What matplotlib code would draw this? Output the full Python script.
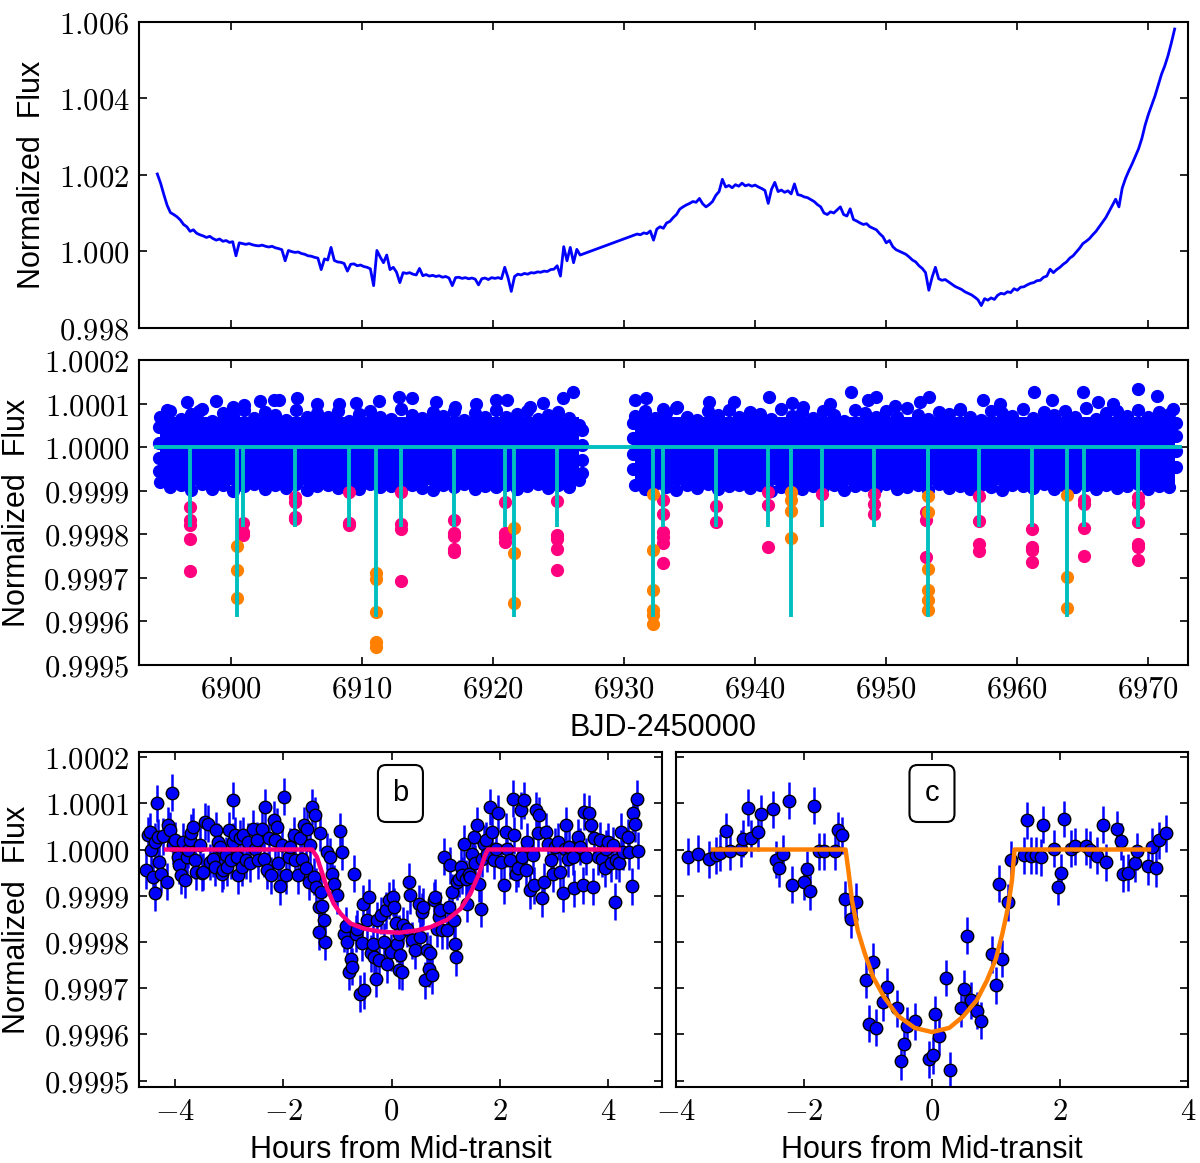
import numpy as np
import matplotlib
matplotlib.use('Agg')
import matplotlib.pyplot as plt
from matplotlib.ticker import FuncFormatter
from matplotlib.patches import FancyBboxPatch

plt.rcParams['mathtext.fontset'] = 'cm'
plt.rcParams['font.family'] = ['Liberation Sans', 'DejaVu Sans']

# ---------------- raw light curve (top panel), ppm from 1 ----------------
raw1_t0 = 6894.40
raw2_t0 = 6930.75
raw_step = 0.25
raw1_ppm = [2020, 1780, 1480, 1200, 1010, 960, 900, 820, 700, 640,
            520, 560, 470, 430, 400, 360, 390, 330, 290, 320,
            260, 280, 230, 250, -120, 220, 200, 180, 200, 170,
            150, 140, 160, 130, 110, 130, 90, 70, 40, -250,
            20, -10, -30, -20, -60, -80, -120, -130, -160, -180,
            -480, -200, -230, 100, -240, -280, -290, -320, -520, -340,
            -330, -380, -360, -400, -420, -460, -900, 20, -150, -300,
            -100, -480, -420, -550, -820, -560, -580, -560, -600, -620,
            -450, -640, -610, -650, -630, -660, -640, -680, -660, -700,
            -900, -690, -680, -710, -690, -720, -700, -730, -880, -720,
            -700, -740, -690, -710, -690, -720, -420, -690, -1050, -660,
            -600, -620, -580, -600, -560, -570, -540, -550, -520, -530,
            -480, -470, -380, -650, 120, -250, 100, -300, 50, -100]
raw2_ppm = [420, 450, 430, 480, 460, 530, 290, 580, 640, 600,
            740, 780, 880, 960, 1100, 1160, 1210, 1250, 1300, 1280,
            1380, 1240, 1160, 1220, 1300, 1460, 1560, 1880, 1680, 1720,
            1660, 1740, 1700, 1780, 1710, 1740, 1700, 1730, 1680, 1640,
            1590, 1250, 1620, 1800, 1560, 1600, 1540, 1580, 1500, 1760,
            1480, 1460, 1420, 1400, 1350, 1300, 1220, 1160, 1000, 960,
            1030, 1000, 1080, 1160, 960, 920, 1110, 830, 790, 740,
            700, 720, 640, 600, 560, 460, 380, 220, 280, 120,
            40, 0, -40, -80, -150, -230, -280, -380, -450, -560,
            -1020, -680, -420, -720, -760, -740, -800, -860, -920, -960,
            -1000, -1060, -1100, -1140, -1200, -1270, -1420, -1240, -1280, -1220,
            -1260, -1150, -1100, -1120, -1060, -1080, -980, -1020, -940, -930,
            -880, -840, -820, -770, -760, -680, -650, -470, -560, -480,
            -420, -340, -280, -180, -120, -20, 80, 200, 260, 330,
            430, 520, 640, 760, 880, 1040, 1200, 1360, 1160, 1650,
            1900, 2100, 2280, 2480, 2680, 2950, 3300, 3580, 3820, 4060,
            4350, 4630, 4850, 5120, 5450, 5810]

# ---------------- detrended light curve (middle panel) ----------------
seg_ranges = [(6894.6, 6926.6), (6930.8, 6972.0)]
band_lo_ppm = -86
band_hi_ppm = 68
edge_step = 0.8
edge1_top = [70, 82, 64, 75, 88, 60, 78, 72, 85, 66, 80, 74, 62, 86, 70, 78, 68, 84, 60, 76,
             82, 70, 64, 88, 74, 66, 80, 72, 84, 62, 78, 70, 86, 68, 76, 82, 64, 74, 80, 66, 50]
edge1_bot = [-80, -92, -86, -98, -84, -95, -88, -100, -90, -84, -96, -88, -93, -85, -99, -90,
             -86, -94, -88, -97, -84, -92, -89, -96, -86, -93, -98, -87, -91, -85, -95, -89,
             -92, -86, -97, -90, -84, -94, -88, -92, -75]
edge2_top = [72, 84, 66, 78, 90, 70, 62, 82, 74, 86, 68, 80, 76, 64, 88, 72, 80, 66, 84, 74,
             60, 86, 78, 70, 82, 68, 90, 74, 64, 80, 76, 86, 70, 62, 84, 78, 72, 88, 66, 80,
             74, 84, 70, 90, 64, 78, 82, 72, 86, 68, 80, 76]
edge2_bot = [-88, -96, -84, -92, -99, -87, -93, -85, -97, -90, -86, -94, -88, -100, -91, -85,
             -95, -89, -92, -86, -98, -90, -87, -94, -84, -96, -91, -88, -99, -85, -93, -89,
             -95, -86, -92, -98, -87, -90, -94, -85, -97, -89, -92, -86, -96, -88, -93, -90,
             -85, -95, -89, -92]
end_days = [6894.5] * 4 + [6926.8] * 4 + [6930.7] * 4 + [6972.1] * 4
end_ppm = [-55, -25, 10, 45, -60, -30, 5, 40, -50, -15, 20, 55, -45, -10, 25, 55]
high_days = [6895.15, 6896.70, 6897.58, 6898.89, 6900.20, 6901.02, 6902.25, 6903.27, 6903.71,
             6905.02, 6906.57, 6908.23, 6909.55, 6911.30, 6912.85, 6913.84, 6915.68, 6917.08,
             6918.74, 6920.26, 6921.08, 6922.83, 6923.85, 6925.31, 6926.10,
             6930.82, 6931.69, 6933.01, 6934.03, 6936.51, 6938.41, 6941.04, 6942.79, 6943.66,
             6945.71, 6947.31, 6948.63, 6949.21, 6950.67, 6952.57, 6953.30, 6955.63, 6957.39,
             6958.70, 6961.24, 6962.64, 6964.98, 6966.15, 6967.31, 6969.21, 6970.67, 6971.84]
high_ppm = [85, 103, 82, 105, 92, 97, 105, 108, 108, 112, 99, 99, 102, 105, 116, 113, 103, 92,
            99, 108, 108, 93, 102, 113, 126,
            108, 113, 88, 92, 103, 103, 115, 101, 92, 99, 126, 107, 115, 95, 104, 115, 88, 108,
            99, 126, 108, 126, 104, 99, 134, 118, 88]

pink_days = [6896.9] * 5 + [6900.9] * 3 + [6904.9] * 4 + [6909.0] * 3 + [6913.0] * 4 + \
            [6917.0] * 5 + [6920.9] * 4 + [6924.9] * 5 + [6933.0] * 6 + [6937.0] * 2 + \
            [6941.0] * 3 + [6945.1] + [6949.1] * 3 + [6953.0] * 3 + [6957.1] * 4 + \
            [6961.1] * 4 + [6965.1] * 4 + [6969.2] * 6
pink_ppm = [-137, -168, -178, -212, -284, -174, -195, -202, -115, -126, -160, -164,
            -103, -174, -179, -103, -176, -189, -307, -168, -197, -205, -233, -240,
            -126, -198, -206, -218, -124, -202, -210, -233, -281,
            -122, -153, -195, -206, -221, -266, -135, -173, -103, -132, -229, -108,
            -108, -130, -153, -150, -168, -253, -113, -170, -223, -238,
            -189, -229, -237, -263, -122, -130, -185, -250, -115, -128, -172, -223, -230, -258]
orange_days = [6900.5] * 3 + [6911.1] * 5 + [6921.6] * 3 + [6932.2] * 6 + [6942.7] * 4 + \
              [6953.2] * 6 + [6963.8] * 3
orange_ppm = [-227, -281, -346, -290, -302, -378, -447, -458, -185, -243, -357,
              -108, -237, -327, -374, -385, -406, -102, -122, -147, -208,
              -113, -150, -279, -328, -350, -373, -111, -298, -370]

tb_times = [6896.9, 6900.9, 6904.9, 6909.0, 6913.0, 6917.0, 6920.9, 6924.9, 6933.0, 6937.0,
            6941.0, 6945.1, 6949.1, 6953.2, 6957.1, 6961.1, 6965.1, 6969.2]
tc_times = [6900.5, 6911.1, 6921.6, 6932.2, 6942.7, 6953.2, 6963.8]
depth_b_ppm = 183
depth_c_ppm = 390
model_span = [6894.3, 6972.4]

# ---------------- phase folded b ----------------
b_hr = [-4.54, -4.51, -4.47, -4.44, -4.41, -4.38, -4.38, -4.34, -4.32, -4.30, -4.26, -4.23,
        -4.16, -4.13, -4.10, -4.05, -4.04, -4.01, -3.95, -3.93, -3.89, -3.85, -3.82, -3.79,
        -3.76, -3.73, -3.70, -3.67, -3.64, -3.61, -3.54, -3.51, -3.48, -3.45, -3.39, -3.35,
        -3.30, -3.27, -3.24, -3.20, -3.17, -3.14, -3.11, -3.06, -3.04, -3.00, -2.96, -2.94,
        -2.93, -2.89, -2.86, -2.83, -2.80, -2.77, -2.74, -2.69, -2.66, -2.62, -2.57, -2.52,
        -2.49, -2.46, -2.40, -2.36, -2.34, -2.31, -2.27, -2.23, -2.18, -2.15, -2.12, -2.09,
        -2.06, -2.03, -1.98, -1.95, -1.90, -1.87, -1.81, -1.78, -1.72, -1.69, -1.66, -1.62,
        -1.59, -1.56, -1.53, -1.50, -1.47, -1.44, -1.41, -1.39, -1.35, -1.33, -1.31, -1.28,
        -1.25, -1.23, -1.35, -1.19, -1.13, -1.10, -1.07, -1.00, -0.95, -0.91, -0.88, -0.85,
        -0.82, -0.79, -0.74, -0.73, -0.69, -0.66, -0.63, -0.58, -0.54, -0.52, -0.50, -0.45,
        -0.42, -0.38, -0.35, -0.32, -0.29, -0.26, -0.23, -0.20, -0.14, -0.11, -0.08, -0.04,
        -0.01, 0.02, 0.04, 0.08, 0.11, 0.14,
        0.13, 0.16, 0.19, 0.22, 0.28, 0.32, 0.35, 0.38, 0.44, 0.50, 0.53, 0.56, 0.59, 0.62,
        0.66, 0.69, 0.72, 0.75, 0.78, 0.81, 0.84, 0.87, 0.90, 0.93, 0.97, 1.03, 1.06, 1.08,
        1.12, 1.15, 1.18, 1.20, 1.21, 1.24, 1.28, 1.31, 1.34, 1.37, 1.40, 1.43, 1.46, 1.49,
        1.52, 1.55, 1.58, 1.62, 1.65, 1.68, 1.71, 1.74, 1.77, 1.83, 1.86, 1.89, 1.93, 1.96,
        2.02, 2.08, 2.11, 2.14, 2.19, 2.24, 2.27, 2.30, 2.34, 2.39, 2.42, 2.45, 2.48, 2.51,
        2.56, 2.61, 2.64, 2.67, 2.70, 2.73, 2.79, 2.82, 2.86, 2.90, 2.95, 2.98, 3.02, 3.07,
        3.12, 3.17, 3.20, 3.23, 3.26, 3.29, 3.35, 3.38, 3.44, 3.49, 3.54, 3.56, 3.60, 3.66,
        3.68, 3.72, 3.75, 3.82, 3.85, 3.89, 3.94, 3.97, 4.01, 4.05, 4.09, 4.13, 4.16, 4.20,
        4.24, 4.28, 4.37, 4.40, 4.44, 4.47, 4.50, 4.53, 4.56]
b_ppm = [-45, 31, 38, -1, -59, 17, -94, 100, 26, -27, -52, 29,
         -70, 53, 42, 123, 9, 20, -16, -34, -56, 17, -66, -16,
         -1, 20, 36, 49, -23, -48, 9, -50, -48, 60, 56, -27,
         -20, -38, 42, 17, 6, -52, -45, -12, -38, 42, -23, 107,
         17, 31, -16, -56, 24, -38, 31, -23, 17, -30, 45, 2,
         20, -23, 45, -20, 92, -45, 24, -56, 64, 20, 49, -30,
         -79, 9, 114, -56, -16, 6, 31, -23, -56, 24, -21, 53,
         -41, 45, -70, 9, 92, -59, 74, -81, -124, 36, -92, -123,
         -153, -200, -178, -5, -16, -52, -74, -99, 40, -5, -182, -165,
         -200, -265, -236, -254, -52, -182, -171, -312, -202, -117, -305, -153,
         -103, -224, -204, -233, -280, -153, -240, -142, -200, -131, -248, -110,
         -222, -103, -124, -160, -204, -261,
         -182, -229, -265, -164, -171, -70, -99, -196, -218, -117, -189, -135, -124, -283,
         -218, -258, -225, -272, -110, -103, -171, -146, -131, -175, -16, -175, -124, -34,
         -92, -153, -204, -233, -70, -63, -38, -56, 13, -63, -117, -52, -59, -9,
         27, -30, 53, -74, -128, -20, 13, 20, -9, 92, 38, -23, 2, 78,
         -27, -77, 38, 2, -23, 110, 31, -52, -41, 85, -16, 107, -45, 17,
         -88, -12, -77, 85, 35, 74, -106, -70, 38, 13, -23, -52, 6, 17,
         -48, -95, 2, 53, -20, 6, -16, -84, 27, 6, -77, 82, -16, 78,
         53, -81, 24, -16, 20, -20, -41, 2, 17, -30, 9, -113, -23, -30,
         38, -5, 27, -5, -79, 78, 56, 110, -3]
b_model_hr = [-4.17, -1.47, -1.38, -1.28, -1.19, -1.07, -0.94, -0.76, -0.51, -0.20, 0.15,
              0.47, 0.72, 1.03, 1.28, 1.46, 1.62, 1.72, 1.78, 4.20]
b_model_ppm = [0, 0, -16, -52, -84, -117, -139, -160, -171, -178, -180,
               -175, -168, -152, -128, -95, -52, -16, 0, 0]

# ---------------- phase folded c ----------------
c_hr = [-3.81, -3.65, -3.48, -3.38, -3.31, -3.22, -3.15, -2.98, -2.95, -2.87, -2.83, -2.72,
        -2.67, -2.49, -2.44, -2.39, -2.33, -2.24, -2.18, -2.00, -1.96, -1.90, -1.85, -1.76,
        -1.68, -1.51, -1.47, -1.40, -1.36, -1.27, -1.19, -1.03, -0.99, -0.92, -0.87, -0.77,
        -0.71, -0.54, -0.48, -0.43, -0.39, -0.27, -0.04, 0.01, 0.05, 0.11, 0.22, 0.28,
        0.45, 0.50, 0.55, 0.61, 0.71, 0.77, 0.93, 1.00, 1.05, 1.10, 1.18, 1.23,
        1.43, 1.49, 1.55, 1.62, 1.70, 1.73, 1.91, 1.97, 2.02, 2.07, 2.17, 2.24,
        2.41, 2.47, 2.58, 2.67, 2.72, 2.89, 2.95, 2.99, 3.06, 3.17, 3.21, 3.37,
        3.44, 3.50, 3.54, 3.65]
c_ppm = [-16, -9, -21, -12, -7, 40, -4, 2, 23, 90, 24, 37,
         77, 87, -22, -41, -9, 105, -76, -70, -43, -90, 95, -4,
         -4, -4, 42, 31, -108, -151, -113, -282, -377, -243, -386, -331,
         -297, -343, -458, -420, -381, -372, -454, -445, -357, -404, -278, -478,
         -344, -301, -187, -326, -349, -370, -227, -294, -74, -236, -114, -22,
         -12, 63, -14, -12, -17, 54, 2, -81, -50, 66, 2, 7,
         7, -1, -13, 54, -28, 44, 18, -52, -50, -30, -4, -36,
         6, -41, 20, 35]
c_model_hr = [-3.42, -1.35, -1.30, -1.25, -1.16, -1.05, -0.92, -0.75, -0.54, -0.27, 0.0,
              0.27, 0.48, 0.70, 0.86, 1.00, 1.10, 1.19, 1.25, 1.29, 3.39]
c_model_ppm = [0, 0, -52, -110, -175, -225, -276, -319, -359, -386, -395,
               -386, -362, -326, -283, -236, -182, -124, -66, 0, 0]
err_ppm = 40


def ppm(v):
    return 1.0 + np.asarray(v, dtype=float) * 1e-6


fmt3 = FuncFormatter(lambda v, p: r'$%.3f$' % v)
fmt4 = FuncFormatter(lambda v, p: r'$%.4f$' % v)
fmti = FuncFormatter(lambda v, p: r'$%d$' % round(v))


def style(ax):
    ax.tick_params(direction='in', length=6, width=1.2, top=True, right=True,
                   labelsize=22, pad=7)
    for s in ax.spines.values():
        s.set_linewidth(1.5)


def label_box(ax, lab):
    # rounded box with the planet letter, sized in pixels
    pos = ax.get_position()
    wpx, hpx = pos.width * 1200, pos.height * 1163
    bw, bh = 45 / wpx, 57 / hpx
    cx, cy = 0.5, 1 - 41.5 / hpx
    box = FancyBboxPatch((cx - bw / 2, cy - bh / 2), bw, bh,
                         boxstyle='round,pad=0,rounding_size=%f' % (8 / wpx),
                         mutation_aspect=wpx / hpx, transform=ax.transAxes,
                         fc='white', ec='k', lw=1.5, zorder=5)
    ax.add_patch(box)
    ax.text(cx, cy, lab, transform=ax.transAxes, ha='center', va='center',
            fontsize=21, zorder=6)


fig = plt.figure(figsize=(12, 11.63), dpi=100)
ax1 = fig.add_axes([0.1158, 0.7182, 0.874, 0.2631])
ax2 = fig.add_axes([0.1158, 0.4282, 0.874, 0.2623])
ax3 = fig.add_axes([0.1158, 0.0653, 0.4358, 0.2881])
ax4 = fig.add_axes([0.5633, 0.0653, 0.4267, 0.2881])

# top: raw
t_raw = np.concatenate([raw1_t0 + raw_step * np.arange(len(raw1_ppm)),
                        raw2_t0 + raw_step * np.arange(len(raw2_ppm))])
f_raw = ppm(raw1_ppm + raw2_ppm)
ax1.plot(t_raw, f_raw, color='b', lw=2.0)
ax1.set_xlim(6893.0, 6973.0)
ax1.set_ylim(0.998, 1.006)
ax1.set_yticks([0.998, 1.000, 1.002, 1.004, 1.006])
ax1.set_xticks(np.arange(6900, 6971, 10))
ax1.yaxis.set_major_formatter(fmt3)
ax1.set_xticklabels([])
ax1.set_ylabel('Normalized  Flux', fontsize=22, labelpad=8)
style(ax1)

# middle: detrended
for lo, hi in seg_ranges:
    ax2.fill_between([lo, hi], ppm(band_lo_ppm), ppm(band_hi_ppm), color='b', lw=0, zorder=1)
e1 = seg_ranges[0][0] + edge_step * np.arange(len(edge1_top))
e2 = seg_ranges[1][0] + edge_step * np.arange(len(edge2_top))
blob_t = np.concatenate([e1, e1, e2, e2, end_days, high_days])
blob_f = ppm(edge1_top + edge1_bot + edge2_top + edge2_bot + end_ppm + high_ppm)
ax2.plot(blob_t, blob_f, 'o', color='b', mec='b', ms=8.5, zorder=2)
ax2.plot(pink_days, ppm(pink_ppm), 'o', color='#ff007f', mec='#ff007f', ms=8.5, zorder=3)
ax2.plot(orange_days, ppm(orange_ppm), 'o', color='#ff8000', mec='#ff8000', ms=8.5, zorder=3)
cyan = (0, 0.75, 0.75)
ax2.plot(model_span, [1.0, 1.0], color=cyan, lw=2.8, zorder=4)
ax2.vlines(tb_times, ppm(-depth_b_ppm), 1.0, color=cyan, lw=2.8, zorder=4)
ax2.vlines(tc_times, ppm(-depth_c_ppm), 1.0, color=cyan, lw=2.8, zorder=4)
ax2.set_xlim(6893.0, 6973.0)
ax2.set_ylim(0.9995, 1.0002)
ax2.set_yticks([0.9995, 0.9996, 0.9997, 0.9998, 0.9999, 1.0000, 1.0001, 1.0002])
ax2.set_xticks(np.arange(6900, 6971, 10))
ax2.yaxis.set_major_formatter(fmt4)
ax2.xaxis.set_major_formatter(fmti)
ax2.set_ylabel('Normalized  Flux', fontsize=22, labelpad=8)
ax2.set_xlabel('BJD-2450000', fontsize=22, labelpad=6)
style(ax2)

# bottom: folded transits
yt = [0.9995, 0.9996, 0.9997, 0.9998, 0.9999, 1.0000, 1.0001, 1.0002]
for ax, hr, fl, mhr, mfl, col, lab, xl in [
        (ax3, b_hr, b_ppm, b_model_hr, b_model_ppm, '#ff007f', 'b', (-4.67, 5.0)),
        (ax4, c_hr, c_ppm, c_model_hr, c_model_ppm, '#ff8000', 'c', (-4.0, 4.0))]:
    ax.errorbar(hr, ppm(fl), yerr=err_ppm * 1e-6, fmt='o', color='b', ecolor='b',
                mfc='b', mec='k', mew=1.0, ms=9, elinewidth=1.8, capsize=0, zorder=2)
    ax.plot(mhr, ppm(mfl), color=col, lw=3.2, zorder=3)
    ax.set_xlim(*xl)
    ax.set_ylim(0.999486, 1.000211)
    ax.set_yticks(yt)
    ax.set_xticks([-4, -2, 0, 2, 4])
    ax.xaxis.set_major_formatter(fmti)
    ax.yaxis.set_major_formatter(fmt4)
    ax.set_xlabel('Hours from Mid-transit', fontsize=22, labelpad=6)
    label_box(ax, lab)
    style(ax)
ax3.set_ylabel('Normalized  Flux', fontsize=22, labelpad=8)
ax4.set_yticklabels([])

fig.savefig('out.png', dpi=100)
